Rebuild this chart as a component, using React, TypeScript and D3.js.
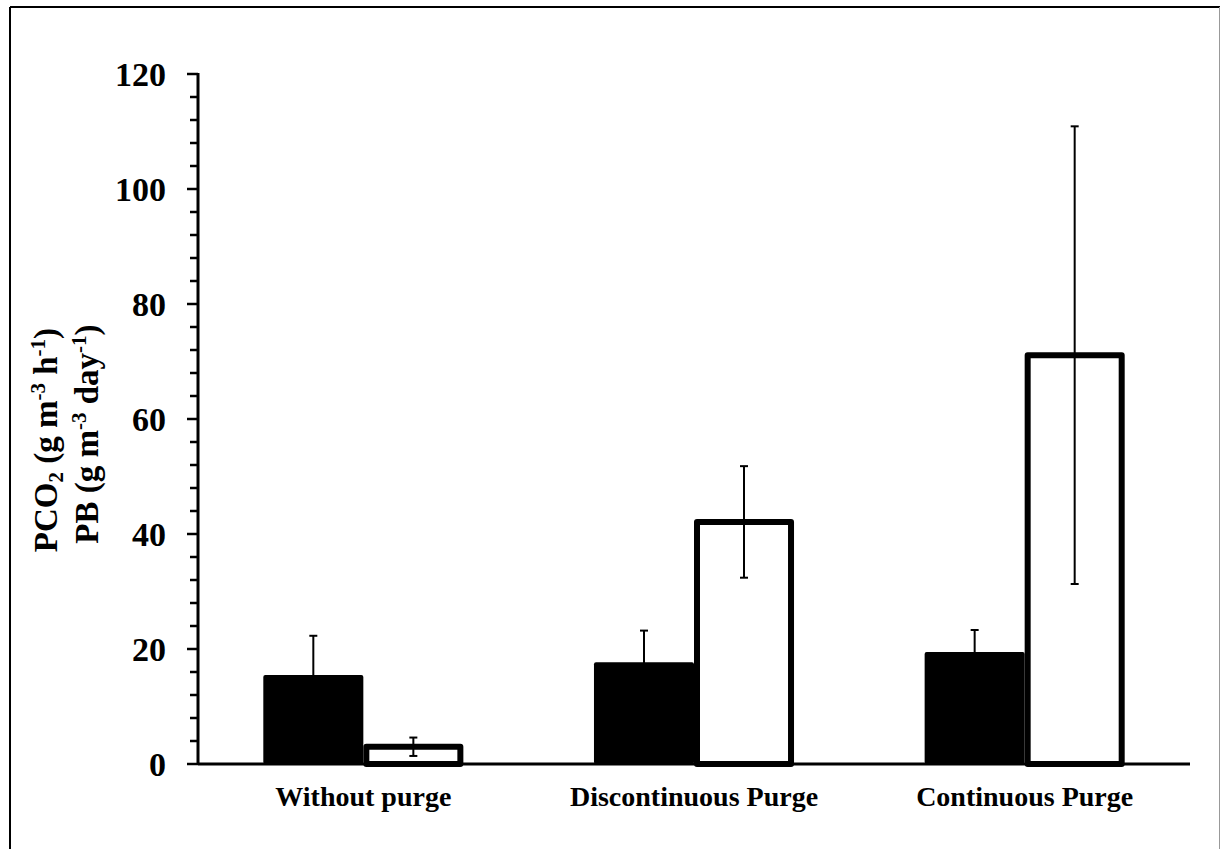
import React from "react";
import * as d3 from "d3";

// Production rates per operating mode
const categories = ["Without purge", "Discontinuous Purge", "Continuous Purge"];
const pco2Values = [15.5, 17.7, 19.5];
const pco2Errors = [6.8, 5.5, 3.8];
const pbValues = [3.0, 42.1, 71.1];
const pbErrors = [1.6, 9.7, 39.8];
const yTicks = [0, 20, 40, 60, 80, 100, 120];

const W = 1221;
const H = 849;
const X0 = 198;
const X1 = 1190;
const Y0 = 764;
const Y1 = 74;
const FONT = "'Liberation Serif', 'Times New Roman', serif";

export default function App() {
  const y = d3.scaleLinear().domain([0, 120]).range([Y0, Y1]);
  const x = d3
    .scaleBand<string>()
    .domain(categories)
    .range([X0, X1])
    .paddingInner(0.395)
    .paddingOuter(0.1975);
  const sub = d3.scaleBand<string>().domain(["pco2", "pb"]).range([0, x.bandwidth()]).padding(0);

  const minorTicks = d3.range(0, 121, 4).filter((v) => v % 20 !== 0);
  const sw = 6;

  const errorBar = (cx: number, v: number, e: number, key: string) => (
    <g key={key} stroke="#000" strokeWidth={2}>
      <line x1={cx} x2={cx} y1={y(v + e)} y2={y(Math.max(0, v - e))} />
      <line x1={cx - 4} x2={cx + 4} y1={y(v + e)} y2={y(v + e)} />
      <line x1={cx - 4} x2={cx + 4} y1={y(Math.max(0, v - e))} y2={y(Math.max(0, v - e))} />
    </g>
  );

  return (
    <div style={{ position: "absolute", left: 0, top: 0 }}>
      <svg width={W} height={H} style={{ display: "block", background: "#fff" }}>
        {/* frame */}
        <line x1={10} x2={10} y1={7} y2={H} stroke="#000" strokeWidth={2} />
        <line x1={10} x2={1220} y1={7} y2={7} stroke="#000" strokeWidth={2} />
        <line x1={1219.5} x2={1219.5} y1={7} y2={H} stroke="#999" strokeWidth={1} />

        {/* PB bars (white, thick outline) */}
        {categories.map((c, i) => {
          const bx = (x(c) ?? 0) + (sub("pb") ?? 0);
          const bw = sub.bandwidth();
          return (
            <rect
              key={"pb" + c}
              x={bx + sw / 2}
              y={y(pbValues[i])}
              width={bw - sw}
              height={Y0 - y(pbValues[i])}
              fill="#fff"
              stroke="#000"
              strokeWidth={sw}
              strokeLinejoin="round"
            />
          );
        })}
        {/* PCO2 bars (black) */}
        {categories.map((c, i) => {
          const bx = (x(c) ?? 0) + (sub("pco2") ?? 0);
          return (
            <rect
              key={"co2" + c}
              x={bx}
              y={y(pco2Values[i])}
              width={sub.bandwidth()}
              height={Y0 - y(pco2Values[i])}
              fill="#000"
              rx={2}
            />
          );
        })}
        {/* error bars */}
        {categories.map((c, i) => {
          const cx = (x(c) ?? 0) + (sub("pco2") ?? 0) + sub.bandwidth() / 2;
          return errorBar(cx, pco2Values[i], pco2Errors[i], "e1" + c);
        })}
        {categories.map((c, i) => {
          const cx = (x(c) ?? 0) + (sub("pb") ?? 0) + sub.bandwidth() / 2;
          return errorBar(cx, pbValues[i], pbErrors[i], "e2" + c);
        })}

        {/* axes */}
        <line x1={X0} x2={X1} y1={Y0} y2={Y0} stroke="#000" strokeWidth={3} />
        <line x1={X0} x2={X0} y1={Y1 - 1} y2={Y0 + 1} stroke="#000" strokeWidth={3} />
        {yTicks.map((t) => (
          <g key={"t" + t}>
            <line x1={X0 - 11} x2={X0} y1={y(t)} y2={y(t)} stroke="#000" strokeWidth={2.5} />
            <text
              x={166}
              y={y(t)}
              dy="0.35em"
              textAnchor="end"
              fontFamily={FONT}
              fontWeight="bold"
              fontSize={34}
            >
              {t}
            </text>
          </g>
        ))}
        {minorTicks.map((t) => (
          <line key={"m" + t} x1={X0 - 8} x2={X0} y1={y(t)} y2={y(t)} stroke="#000" strokeWidth={2.5} />
        ))}

        {/* category labels */}
        {categories.map((c) => (
          <text
            key={"c" + c}
            x={(x(c) ?? 0) + x.bandwidth() / 2}
            y={806}
            textAnchor="middle"
            fontFamily={FONT}
            fontWeight="bold"
            fontSize={28}
          >
            {c}
          </text>
        ))}

        {/* y axis title */}
        <text
          transform="translate(57,440) rotate(-90)"
          textAnchor="middle"
          fontFamily={FONT}
          fontWeight="bold"
          fontSize={33}
        >
          PCO
          <tspan fontSize={21} dy={6}>2</tspan>
          <tspan dy={-6}> (g m</tspan>
          <tspan fontSize={21} dy={-12}>-3</tspan>
          <tspan dy={12}> h</tspan>
          <tspan fontSize={21} dy={-12}>-1</tspan>
          <tspan dy={12}>)</tspan>
        </text>
        <text
          transform="translate(98,434) rotate(-90)"
          textAnchor="middle"
          fontFamily={FONT}
          fontWeight="bold"
          fontSize={33}
        >
          PB (g m
          <tspan fontSize={21} dy={-12}>-3</tspan>
          <tspan dy={12}> day</tspan>
          <tspan fontSize={21} dy={-12}>-1</tspan>
          <tspan dy={12}>)</tspan>
        </text>
      </svg>
    </div>
  );
}
